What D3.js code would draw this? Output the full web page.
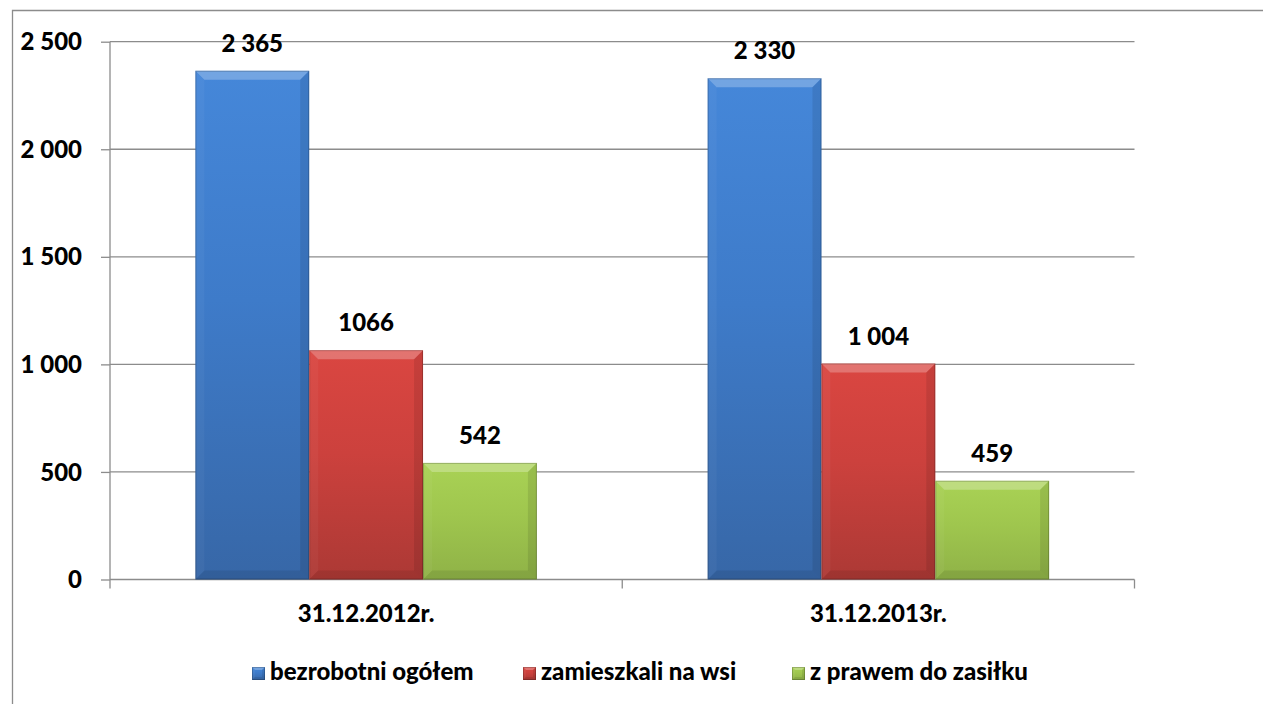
<!DOCTYPE html>
<html><head><meta charset="utf-8">
<script src="https://cdn.jsdelivr.net/npm/d3@7"></script>
<style>
html,body{margin:0;padding:0;background:#fff;}
svg{display:block;}
text{font-family:Lato,"Open Sans",sans-serif;font-weight:900;fill:#000;}
</style></head>
<body>
<svg id="c" width="1263" height="704"></svg>
<script>
const categories = ["31.12.2012r.", "31.12.2013r."];
const seriesNames = ["bezrobotni ogółem", "zamieszkali na wsi", "z prawem do zasiłku"];
const bezrobotni = [2365, 2330];
const zamieszkali = [1066, 1004];
const zasilek = [542, 459];
const valueLabels = [["2 365", "2 330"], ["1066", "1 004"], ["542", "459"]];
const yTicks = [0, 500, 1000, 1500, 2000, 2500];
const yTickLabels = ["0", "500", "1 000", "1 500", "2 000", "2 500"];

const seriesValues = [bezrobotni, zamieszkali, zasilek];
const palette = [
  {top:"#4587d9", mid:"#3e7bc9", bot:"#3767a7"},
  {top:"#da4641", mid:"#cc413d", bot:"#ac3935"},
  {top:"#a9d255", mid:"#9fc64e", bot:"#8fb247"}
];

const svg = d3.select("#c");
const defs = svg.append("defs");
palette.forEach((p,i)=>{
  const g = defs.append("linearGradient").attr("id","g"+i).attr("x1",0).attr("y1",0).attr("x2",0).attr("y2",1);
  g.append("stop").attr("offset","0%").attr("stop-color",p.top);
  g.append("stop").attr("offset","45%").attr("stop-color",p.mid);
  g.append("stop").attr("offset","100%").attr("stop-color",p.bot);
});

const pLeft = 110, pRight = 1134.5, pTop = 41.7, pBottom = 579.5;
const x0 = d3.scaleBand().domain(categories).range([pLeft, pRight]).paddingInner(0).paddingOuter(0);
const x1 = d3.scaleBand().domain(seriesNames).range([0, x0.bandwidth()]).paddingInner(0).paddingOuter(0.75);
const y = d3.scaleLinear().domain([0, 2500]).range([pBottom, pTop]);

// chart border (left & top only visible)
svg.append("path").attr("d", `M12.5,704 L12.5,10.5 L1263,10.5`).attr("fill","none").attr("stroke","#8c8c8c").attr("stroke-width",1.3);

// gridlines
svg.append("g").selectAll("line").data(yTicks.filter(d=>d>0)).join("line")
  .attr("x1", pLeft).attr("x2", pRight).attr("y1", d=>y(d)).attr("y2", d=>y(d))
  .attr("stroke","#8c8c8c").attr("stroke-width",1.3);

// y axis
const yAxis = d3.axisLeft(y).tickValues(yTicks).tickSize(9).tickFormat((d,i)=>yTickLabels[i]);
const gy = svg.append("g").attr("transform",`translate(${pLeft},0)`).call(yAxis);
gy.select(".domain").attr("stroke","#8c8c8c").attr("stroke-width",1.3).attr("d",`M0,${pTop}V${pBottom}`);
gy.selectAll(".tick line").attr("stroke","#8c8c8c").attr("stroke-width",1.3);
gy.selectAll(".tick text").attr("x",-28).attr("dy","0.34em").style("font-size","24px").style("font-family","Lato").style("font-weight","900").attr("fill","#000");

// x axis line + ticks at band boundaries
svg.append("line").attr("x1",pLeft).attr("x2",pRight).attr("y1",pBottom).attr("y2",pBottom).attr("stroke","#8c8c8c").attr("stroke-width",1.3);
const bounds = [pLeft].concat(categories.map(c=>x0(c)+x0.bandwidth()));
svg.append("g").selectAll("line").data(bounds).join("line")
  .attr("x1",d=>d).attr("x2",d=>d).attr("y1",pBottom).attr("y2",pBottom+9)
  .attr("stroke","#8c8c8c").attr("stroke-width",1.3);
svg.append("g").selectAll("text").data(categories).join("text")
  .attr("x", d=>x0(d)+x0.bandwidth()/2).attr("y", 622).attr("text-anchor","middle")
  .style("font-size","24px").text(d=>d);

// bars with bevel
function bevelBar(g, x, yy, w, h, i, b){
  g.append("rect").attr("x",x).attr("y",yy).attr("width",w).attr("height",h).attr("fill",`url(#g${i})`);
  b = Math.min(b, w/2, h/2);
  g.append("polygon").attr("points",`${x},${yy} ${x+w},${yy} ${x+w-b},${yy+b} ${x+b},${yy+b}`).attr("fill","#fff").attr("opacity",0.25);
  g.append("polygon").attr("points",`${x},${yy} ${x+b},${yy+b} ${x+b},${yy+h-b} ${x},${yy+h}`).attr("fill","#fff").attr("opacity",0.04);
  g.append("polygon").attr("points",`${x+w},${yy} ${x+w-b},${yy+b} ${x+w-b},${yy+h-b} ${x+w},${yy+h}`).attr("fill","#000").attr("opacity",0.09);
  g.append("polygon").attr("points",`${x},${yy+h} ${x+b},${yy+h-b} ${x+w-b},${yy+h-b} ${x+w},${yy+h}`).attr("fill","#000").attr("opacity",0.08);
  g.append("rect").attr("x",x+0.5).attr("y",yy+0.5).attr("width",w-1).attr("height",h-1).attr("fill","none").attr("stroke","#000").attr("stroke-opacity",0.2).attr("stroke-width",1);
}
const barsG = svg.append("g");
seriesValues.forEach((vals, si)=>{
  vals.forEach((v, ci)=>{
    const bx = x0(categories[ci]) + x1(seriesNames[si]);
    const by = y(v);
    bevelBar(barsG, bx, by, x1.bandwidth(), y(0)-by, si, 9);
    barsG.append("text").attr("x", bx + x1.bandwidth()/2).attr("y", by - 19)
      .attr("text-anchor","middle").style("font-size","24px").text(valueLabels[si][ci]);
  });
});

// legend
const legendX = [252, 523, 792];
const lg = svg.append("g");
seriesNames.forEach((n,i)=>{
  bevelBar(lg, legendX[i], 667, 13, 13, i, 3);
  lg.append("text").attr("x", legendX[i]+18).attr("y", 680).style("font-size","24px").text(n);
});
</script>
</body></html>
